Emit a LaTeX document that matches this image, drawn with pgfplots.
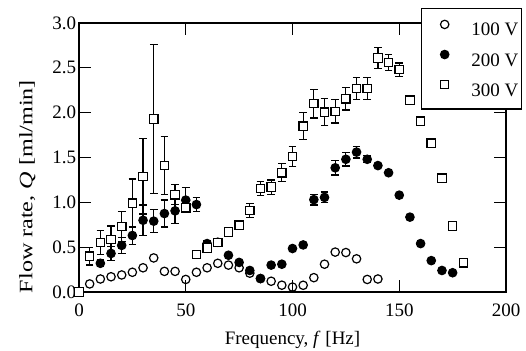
\documentclass[border=0pt]{standalone}
\usepackage{fontspec}
\setmainfont{Liberation Serif}
\usepackage{pgfplots}
\pgfplotsset{compat=1.18}
\pgfplotsset{mylegend/.style={legend image code/.code={%
  \node[inner sep=0pt, outer sep=0pt, minimum width=17.5bp, minimum height=6.6bp, anchor=south west, draw=none, fill=none] at (-3.5bp,0bp) {};
  \draw[##1] plot coordinates {(7bp,3.3bp)};}}}
\begin{document}
\fontsize{9.5bp}{11bp}\selectfont
\begin{tikzpicture}
\begin{axis}[
  at={(39.5bp,29.5bp)}, anchor=south west,
  scale only axis, width=213.5bp, height=134.5bp,
  xmin=0, xmax=200, ymin=0, ymax=3,
  xtick={0,50,...,200}, ytick={0,0.5,...,3},
  /pgf/number format/assume math mode=true,
  tick align=inside, major tick length=6bp,
  every tick/.style={black, line width=0.6bp},
  axis line style={line width=0.7bp},
  xticklabel style={anchor=base, yshift=-12.3bp, inner sep=0pt},
  yticklabel style={anchor=east, inner sep=0pt, xshift=-1.2bp,
    /pgf/number format/fixed, /pgf/number format/fixed zerofill, /pgf/number format/precision=1},
  xlabel={Frequency, \textit{f} [Hz]},
  ylabel={\scalebox{1.27}[1]{Flow rate, \textit{Q} [ml/min]}},
  xlabel style={at={(axis description cs:0.5,-0.197)}, anchor=base, inner sep=0pt},
  ylabel style={at={(axis description cs:-0.1089,0.392)}, anchor=base, inner sep=0pt},
  legend style={at={(1.0375,1.0558)}, anchor=north east, draw=black, fill=white,
    line width=0.75bp, inner xsep=1bp, inner ysep=4.55bp, row sep=4.07bp,
    nodes={inner sep=0.5bp}, /tikz/every odd column/.append style={column sep=5.8bp},
    font=\fontsize{9.5bp}{11bp}\selectfont},
  legend cell align=left,
  error bars/y dir=both, error bars/y explicit,
  error bars/error bar style={line width=0.6bp, black},
  error bars/error mark options={rotate=90, mark size=1.9bp, line width=0.6bp, black},
]
\addplot[only marks, mark=o, mark size=2.1bp, line width=0.6bp, black, mark options={fill=white}, mylegend]
coordinates {
(0,0) (5,0.09) (10,0.145) (15,0.17) (20,0.19) (25,0.22) (30,0.27) (35,0.38)
(40,0.23) (45,0.23) (50,0.14) (55,0.22) (60,0.27) (65,0.32) (70,0.30) (75,0.27)
(80,0.21) (85,0.15) (90,0.12) (95,0.076) (100,0.055) (105,0.075) (110,0.16)
(115,0.31) (120,0.445) (125,0.44) (130,0.37) (135,0.14) (140,0.145)
};
\addlegendentry{100 V}
\addplot[only marks, mark=*, mark size=2.1bp, line width=0.6bp, black, mark options={fill=black}, mylegend]
coordinates {
(0,0) +- (0,0)
(10,0.32) +- (0,0.04)
(15,0.43) +- (0,0.08)
(20,0.52) +- (0,0.09)
(25,0.63) +- (0,0.10)
(30,0.80) +- (0,0.17)
(35,0.79) +- (0,0.13)
(40,0.875) +- (0,0.15)
(45,0.905) +- (0,0.14)
(50,1.025) +- (0,0.14)
(55,0.975) +- (0,0.08)
(60,0.54) +- (0,0.03)
(65,0.555) +- (0,0.03)
(70,0.41) +- (0,0)
(75,0.33) +- (0,0)
(80,0.24) +- (0,0)
(85,0.15) +- (0,0)
(90,0.30) +- (0,0)
(95,0.31) +- (0,0)
(100,0.485) +- (0,0)
(105,0.525) +- (0,0)
(110,1.03) +- (0,0.06)
(115,1.055) +- (0,0.06)
(120,1.385) +- (0,0.08)
(125,1.48) +- (0,0.075)
(130,1.56) +- (0,0.065)
(135,1.48) +- (0,0.04)
(140,1.41) +- (0,0)
(145,1.33) +- (0,0)
(150,1.08) +- (0,0)
(155,0.835) +- (0,0)
(160,0.54) +- (0,0)
(165,0.35) +- (0,0)
(170,0.24) +- (0,0)
(175,0.215) +- (0,0)
};
\addlegendentry{200 V}
\addplot[only marks, mark=square*, mark size=2.1bp, line width=0.6bp, black, mark options={fill=white}, mylegend]
coordinates {
(0,0) +- (0,0)
(5,0.40) +- (0,0.10)
(10,0.55) +- (0,0.135)
(15,0.585) +- (0,0.15)
(20,0.73) +- (0,0.17)
(25,0.99) +- (0,0.27)
(30,1.29) +- (0,0.42)
(35,1.93) +- (0,0.83)
(40,1.41) +- (0,0.32)
(45,1.085) +- (0,0.11)
(50,0.94) +- (0,0.03)
(55,0.42) +- (0,0)
(60,0.49) +- (0,0)
(65,0.55) +- (0,0)
(70,0.67) +- (0,0)
(75,0.745) +- (0,0)
(80,0.91) +- (0,0.075)
(85,1.155) +- (0,0.08)
(90,1.17) +- (0,0.08)
(95,1.33) +- (0,0.10)
(100,1.51) +- (0,0.11)
(105,1.85) +- (0,0.15)
(110,2.10) +- (0,0.16)
(115,2.005) +- (0,0.15)
(120,2.015) +- (0,0.13)
(125,2.155) +- (0,0.125)
(130,2.27) +- (0,0.125)
(135,2.27) +- (0,0.12)
(140,2.61) +- (0,0.12)
(145,2.56) +- (0,0.09)
(150,2.48) +- (0,0.075)
(155,2.14) +- (0,0)
(160,1.905) +- (0,0)
(165,1.66) +- (0,0)
(170,1.27) +- (0,0)
(175,0.735) +- (0,0)
(180,0.325) +- (0,0)
};
\addlegendentry{300 V}
\end{axis}
\pgfresetboundingbox
\path[use as bounding box] (0,0) rectangle (263bp,175.5bp);
\end{tikzpicture}
\end{document}
